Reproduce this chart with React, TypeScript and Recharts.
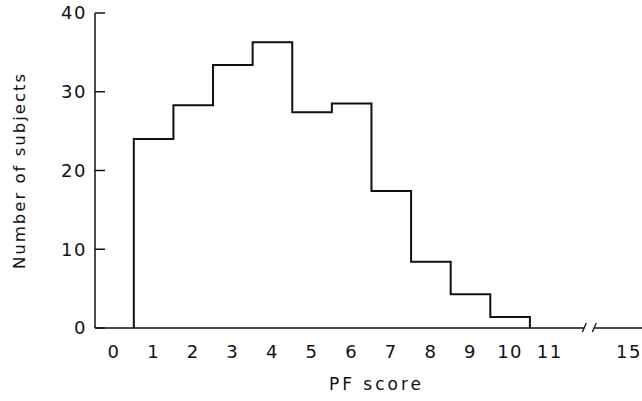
import React from 'react';
import { LineChart, Line, XAxis, YAxis, ReferenceDot } from 'recharts';

// Histogram of PF scores: bin edges (each bin centred on an integer score) and counts
const binEdges = [0.5, 1.5, 2.5, 3.5, 4.5, 5.5, 6.5, 7.5, 8.5, 9.5, 10.5];
const counts = [24, 28.3, 33.4, 36.3, 27.4, 28.5, 17.4, 8.4, 4.3, 1.4];
// x tick positions (axis break between 11 and 15: 15 is drawn at position 13)
const xTicks = [0, 1, 2, 3, 4, 5, 6, 7, 8, 9, 10, 11, 13];
const xTickLabels: Record<number, string> = { 13: '15' };
const yTicks = [0, 10, 20, 30, 40];
const breakAt = 12;

const outline = [
  { x: binEdges[0], y: 0 },
  ...counts.map((c, i) => ({ x: binEdges[i], y: c })),
  { x: binEdges[binEdges.length - 1], y: 0 },
];

const FONT = '"DejaVu Sans", sans-serif';

const YTick = (props: any) => {
  const { x, y, payload } = props;
  return (
    <g>
      <text x={x} y={y} dy="0.355em" textAnchor="end" fontFamily={FONT} fontSize={18} letterSpacing={1.5} fill="#111">
        {payload.value}
      </text>
      <line x1={x + 8} x2={x + 18} y1={y} y2={y} stroke="#111" strokeWidth={1.5} />
    </g>
  );
};

const XTick = (props: any) => {
  const { x, y, payload } = props;
  const label = xTickLabels[payload.value] ?? String(payload.value);
  return (
    <text x={x} y={y} dy="0.71em" textAnchor="middle" fontFamily={FONT} fontSize={18} letterSpacing={1.5} fill="#111">
      {label}
    </text>
  );
};

const BreakMark = (props: any) => {
  const { cx, cy } = props;
  return (
    <g>
      <rect x={cx - 5} y={cy - 3} width={10} height={6} fill="#fff" />
      <line x1={cx - 7} y1={cy + 4} x2={cx - 3} y2={cy - 5} stroke="#111" strokeWidth={1.3} />
      <line x1={cx + 3} y1={cy + 4} x2={cx + 7} y2={cy - 5} stroke="#111" strokeWidth={1.3} />
    </g>
  );
};

export default function App() {
  return (
    <div style={{ position: 'absolute', left: 0, top: 0, background: '#fff' }}>
      <LineChart width={642} height={401} data={outline} margin={{ top: 13, right: 0, bottom: 0, left: 0 }}>
        <XAxis
          type="number"
          dataKey="x"
          domain={[-0.48, 13.33]}
          ticks={xTicks}
          allowDataOverflow
          tickLine={false}
          tickSize={0}
          tickMargin={17}
          tick={<XTick />}
          height={73}
          axisLine={{ stroke: '#111', strokeWidth: 1.5 }}
          label={{
            content: (p: any) => {
              const vb = p.viewBox;
              return (
                <text x={vb.x + vb.width / 2 + 8} y={vb.y + 62} textAnchor="middle" fontFamily={FONT} fontSize={17} letterSpacing={3} fill="#111">
                  PF score
                </text>
              );
            },
          }}
        />
        <YAxis
          type="number"
          domain={[0, 40]}
          ticks={yTicks}
          width={95}
          tickLine={false}
          tickSize={0}
          tickMargin={8}
          tick={<YTick />}
          axisLine={{ stroke: '#111', strokeWidth: 1.5 }}
          label={{
            content: (p: any) => {
              const vb = p.viewBox;
              const cx = vb.x + 19;
              const cy = vb.y + vb.height / 2;
              return (
                <text x={cx} y={cy} textAnchor="middle" dominantBaseline="central" transform={`rotate(-90 ${cx} ${cy})`} fontFamily={FONT} fontSize={16.5} letterSpacing={2} fill="#111">
                  Number of subjects
                </text>
              );
            },
          }}
        />
        <Line type="stepAfter" dataKey="y" stroke="#111" strokeWidth={2} dot={false} isAnimationActive={false} />
        <ReferenceDot x={breakAt} y={0} r={0} shape={<BreakMark />} ifOverflow="visible" />
      </LineChart>
    </div>
  );
}
